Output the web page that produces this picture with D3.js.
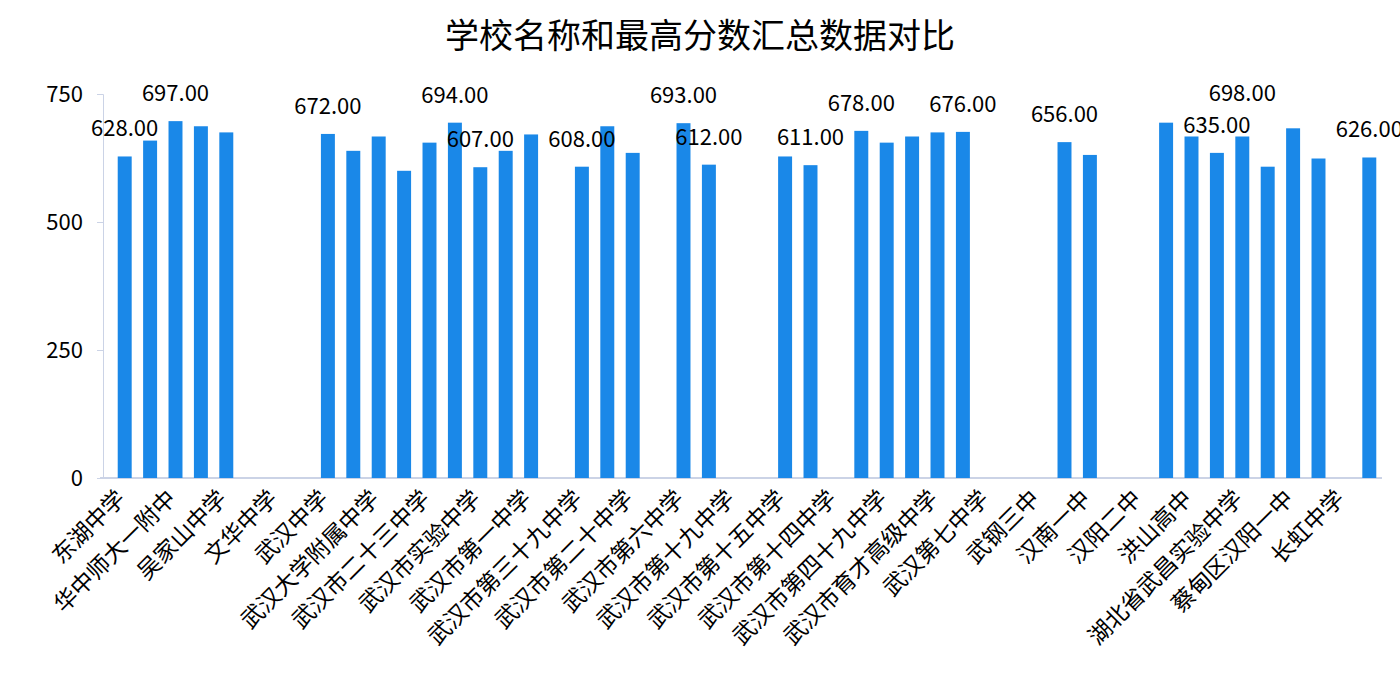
<!DOCTYPE html>
<html>
<head>
<meta charset="utf-8">
<script src="https://cdn.jsdelivr.net/npm/d3@7"></script>
<style>
  body { margin: 0; background: #fff; }
  text { font-family: "Noto Sans CJK SC", "Noto Sans", sans-serif; fill: #000; }
</style>
</head>
<body>
<svg></svg>
<script>
const width = 1400
const height = 700

// 每个类别的最高分 (null = 无数据)
const values = [628, 659, 697, 687, 675, null, null, null, 672, 639,
  667, 600, 655, 694, 607, 639, 671, null, 608, 687,
  635, null, 693, 612, null, null, 628, 611, null, 678,
  655, 667, 675, 676, null, null, null, 656, 631, null,
  null, 694, 667, 635, 667, 608, 683, 624, null, 626]

// 显示的轴标签 (每隔一个类别)
const tickLabels = ['东湖中学', '华中师大一附中', '吴家山中学', '文华中学', '武汉中学',
  '武汉大学附属中学', '武汉市二十三中学', '武汉市实验中学', '武汉市第一中学', '武汉市第三十九中学',
  '武汉市第二十中学', '武汉市第六中学', '武汉市第十九中学', '武汉市第十五中学', '武汉市第十四中学',
  '武汉市第四十九中学', '武汉市育才高级中学', '武汉第七中学', '武钢三中', '汉南一中',
  '汉阳二中', '洪山高中', '湖北省武昌实验中学', '蔡甸区汉阳一中', '长虹中学']

// 数据标签
const labelIdx = [0, 2, 8, 13, 14, 18, 22, 23, 27, 29, 33, 37, 43, 44, 49]
const labelVals = [628, 697, 672, 694, 607, 608, 693, 612, 611, 678, 676, 656, 635, 698, 626]

const yTicks = [0, 250, 500, 750]

const svg = d3.select('svg').attr('width', width).attr('height', height)

const x = d3.scaleBand().domain(d3.range(values.length)).range([112, 1382]).paddingInner(0.45).paddingOuter(0.225)
const y = d3.scaleLinear().domain([0, 750]).range([478, 94])

svg.append('text').attr('x', 700).attr('y', 48).attr('text-anchor', 'middle')
  .style('font-size', '34px').text('学校名称和最高分数汇总数据对比')

// y 轴
const yAxis = svg.append('g').attr('transform', 'translate(103,0)')
  .call(d3.axisLeft(y).tickValues(yTicks).tickSize(6).tickPadding(14))
yAxis.select('.domain').attr('stroke', '#cbd3e6')
yAxis.selectAll('line').attr('stroke', '#cbd3e6')
yAxis.selectAll('text').style('font-size', '22px')

// 基线
svg.append('line').attr('x1', 100).attr('x2', 1382).attr('y1', y(0)).attr('y2', y(0))
  .attr('stroke', '#cbd3e6').attr('stroke-width', 2)

// 柱子
svg.append('g').selectAll('rect')
  .data(values.map((v, i) => ({v, i})).filter(d => d.v != null))
  .enter().append('rect')
  .attr('x', d => x(d.i))
  .attr('width', x.bandwidth())
  .attr('y', d => y(d.v))
  .attr('height', d => y(0) - y(d.v))
  .attr('fill', '#1a88e8')

// x 轴标签
svg.append('g').selectAll('text').data(tickLabels).enter().append('text')
  .attr('transform', (d, i) => `translate(${x(i * 2) + x.bandwidth() / 2 + 2},${500}) rotate(-45)`)
  .attr('text-anchor', 'end')
  .style('font-size', '23px')
  .text(d => d)

// 数据标签
svg.append('g').selectAll('text').data(labelIdx).enter().append('text')
  .attr('x', d => x(d) + x.bandwidth() / 2)
  .attr('y', (d, i) => y(labelVals[i]) - 20)
  .attr('text-anchor', 'middle')
  .style('font-size', '22px')
  .text((d, i) => labelVals[i].toFixed(2))
</script>
</body>
</html>
